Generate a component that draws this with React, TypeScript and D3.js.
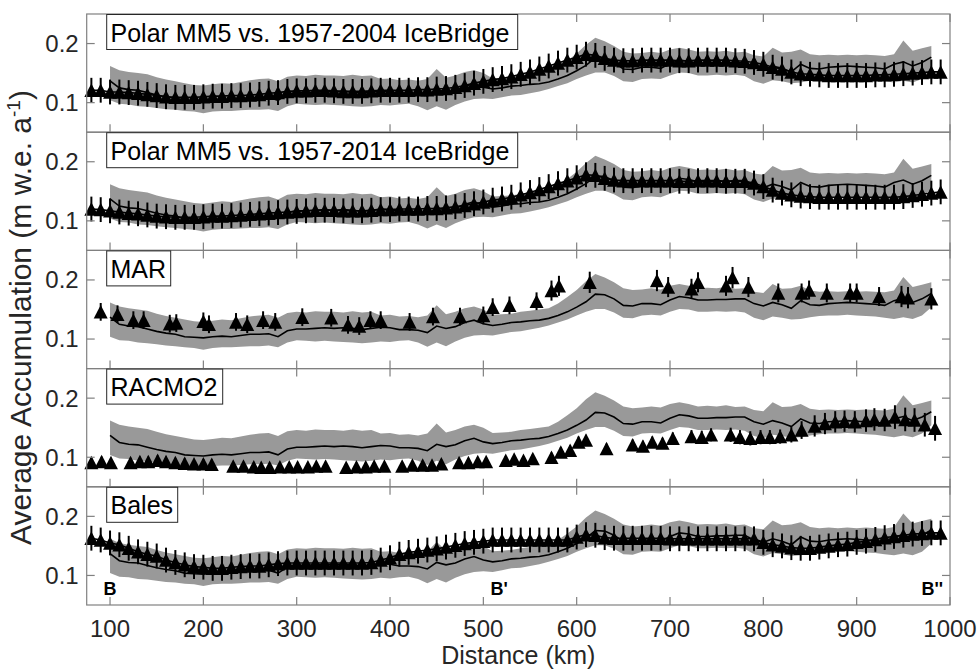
import React from "react";
import * as d3 from "d3";

// ---------- DATA ----------
const xTickValues = [100, 200, 300, 400, 500, 600, 700, 800, 900, 1000];
const yTickValues = [0.1, 0.2];
const yTickLabels = ["0.1", "0.2"];
const panelLabels = [
  "Polar MM5 vs. 1957-2004 IceBridge",
  "Polar MM5 vs. 1957-2014 IceBridge",
  "MAR",
  "RACMO2",
  "Bales",
];
const sectionLabels = ["B", "B'", "B''"];
const sectionKm = [100, 517, 981];

// IceBridge (radar) mean and spread, sampled every 10 km from 100 to 980 km
const iceKm = d3.range(100, 990, 10);
const iceMean = [
  0.137, 0.125, 0.122, 0.121, 0.117, 0.113, 0.110, 0.108, 0.104, 0.103,
  0.102, 0.104, 0.105, 0.104, 0.106, 0.108, 0.108, 0.109, 0.104, 0.114,
  0.117, 0.117, 0.118, 0.119, 0.118, 0.119, 0.118, 0.116, 0.118, 0.120,
  0.119, 0.116, 0.116, 0.115, 0.111, 0.122, 0.118, 0.121, 0.128, 0.132,
  0.126, 0.123, 0.125, 0.128, 0.129, 0.131, 0.132, 0.135, 0.140, 0.146,
  0.154, 0.163, 0.176, 0.175, 0.168, 0.157, 0.156, 0.160, 0.160, 0.158,
  0.166, 0.172, 0.170, 0.166, 0.166, 0.167, 0.167, 0.168, 0.168, 0.160,
  0.156, 0.162, 0.158, 0.152, 0.165, 0.158, 0.157, 0.160, 0.161, 0.162,
  0.161, 0.160, 0.159, 0.157, 0.165, 0.169, 0.162, 0.168, 0.177,
];
const iceUpper = [
  0.162, 0.155, 0.152, 0.150, 0.148, 0.143, 0.139, 0.136, 0.133, 0.130,
  0.129, 0.131, 0.133, 0.132, 0.135, 0.138, 0.140, 0.141, 0.136, 0.144,
  0.146, 0.145, 0.147, 0.146, 0.146, 0.145, 0.147, 0.145, 0.146, 0.140,
  0.141, 0.138, 0.139, 0.137, 0.140, 0.157, 0.142, 0.146, 0.152, 0.155,
  0.150, 0.141, 0.142, 0.143, 0.146, 0.148, 0.150, 0.152, 0.160, 0.171,
  0.183, 0.198, 0.210, 0.204, 0.196, 0.186, 0.183, 0.184, 0.186, 0.184,
  0.190, 0.193, 0.190, 0.186, 0.187, 0.186, 0.188, 0.185, 0.186, 0.180,
  0.178, 0.193, 0.185, 0.186, 0.190, 0.182, 0.180, 0.181, 0.180, 0.181,
  0.180, 0.181, 0.180, 0.179, 0.182, 0.205, 0.188, 0.192, 0.196,
];
const iceLower = [
  0.104, 0.098, 0.097, 0.094, 0.093, 0.091, 0.089, 0.088, 0.086, 0.085,
  0.082, 0.085, 0.086, 0.086, 0.087, 0.088, 0.088, 0.089, 0.086, 0.094,
  0.098, 0.097, 0.096, 0.097, 0.096, 0.095, 0.094, 0.093, 0.094, 0.096,
  0.095, 0.097, 0.098, 0.094, 0.087, 0.094, 0.088, 0.096, 0.102, 0.106,
  0.107, 0.106, 0.109, 0.112, 0.113, 0.116, 0.119, 0.123, 0.128, 0.133,
  0.140, 0.146, 0.151, 0.151, 0.145, 0.136, 0.135, 0.140, 0.141, 0.140,
  0.146, 0.151, 0.150, 0.146, 0.146, 0.147, 0.146, 0.147, 0.145, 0.136,
  0.132, 0.138, 0.136, 0.133, 0.134, 0.137, 0.139, 0.140, 0.140, 0.141,
  0.140, 0.139, 0.138, 0.136, 0.134, 0.137, 0.134, 0.140, 0.154,
];

// Dense series every 10 km from 80 to 990 km
const denseKm = d3.range(80, 1000, 10);
const mm5_2004 = [
  0.121, 0.121, 0.118, 0.118, 0.117, 0.116, 0.114, 0.112, 0.110, 0.109,
  0.109, 0.109, 0.110, 0.111, 0.111, 0.112, 0.112, 0.113, 0.114, 0.116,
  0.117, 0.119, 0.120, 0.120, 0.121, 0.121, 0.120, 0.119, 0.119, 0.119,
  0.120, 0.121, 0.121, 0.121, 0.121, 0.122, 0.122, 0.123, 0.124, 0.126,
  0.129, 0.133, 0.136, 0.139, 0.141, 0.144, 0.148, 0.152, 0.157, 0.162,
  0.167, 0.172, 0.177, 0.182, 0.180, 0.175, 0.172, 0.171, 0.171, 0.172,
  0.172, 0.172, 0.172, 0.171, 0.171, 0.172, 0.172, 0.172, 0.172, 0.171,
  0.170, 0.168, 0.165, 0.160, 0.157, 0.152, 0.149, 0.148, 0.147, 0.146,
  0.146, 0.146, 0.146, 0.146, 0.147, 0.147, 0.148, 0.149, 0.150, 0.151,
  0.152, 0.152,
];
const mm5_2014 = [
  0.120, 0.119, 0.117, 0.115, 0.113, 0.112, 0.110, 0.108, 0.107, 0.106,
  0.106, 0.106, 0.107, 0.108, 0.108, 0.109, 0.110, 0.111, 0.112, 0.113,
  0.114, 0.115, 0.116, 0.117, 0.118, 0.118, 0.118, 0.117, 0.117, 0.117,
  0.118, 0.119, 0.119, 0.120, 0.120, 0.120, 0.121, 0.121, 0.122, 0.124,
  0.126, 0.129, 0.132, 0.135, 0.137, 0.140, 0.144, 0.148, 0.153, 0.158,
  0.163, 0.168, 0.173, 0.178, 0.177, 0.172, 0.169, 0.168, 0.168, 0.168,
  0.168, 0.168, 0.168, 0.167, 0.167, 0.168, 0.168, 0.168, 0.167, 0.167,
  0.167, 0.164, 0.158, 0.152, 0.147, 0.144, 0.142, 0.141, 0.140, 0.140,
  0.140, 0.140, 0.140, 0.140, 0.140, 0.140, 0.140, 0.141, 0.143, 0.145,
  0.147, 0.149,
];
const bales = [
  0.163, 0.160, 0.155, 0.152, 0.146, 0.140, 0.136, 0.133, 0.126, 0.122,
  0.118, 0.115, 0.114, 0.112, 0.112, 0.114, 0.115, 0.116, 0.116, 0.118,
  0.120, 0.121, 0.121, 0.121, 0.121, 0.121, 0.121, 0.121, 0.121, 0.121,
  0.122, 0.126, 0.130, 0.136, 0.139, 0.141, 0.143, 0.145, 0.148, 0.151,
  0.154, 0.156, 0.158, 0.160, 0.160, 0.160, 0.160, 0.160, 0.160, 0.160,
  0.160, 0.160, 0.165, 0.169, 0.168, 0.164, 0.163, 0.163, 0.163, 0.163,
  0.163, 0.163, 0.162, 0.162, 0.162, 0.162, 0.162, 0.162, 0.162, 0.162,
  0.162, 0.162, 0.156, 0.152, 0.150, 0.147, 0.146, 0.146, 0.148, 0.150,
  0.152, 0.153, 0.156, 0.158, 0.161, 0.164, 0.166, 0.168, 0.170, 0.171,
  0.172, 0.172,
];
const mm5Err = 0.021;
const balesErr = 0.021;

// Sparse model points [km, value, error]
const marPoints: [number, number, number][] = [
  [90, 0.146, 0.015], [108, 0.142, 0.015], [125, 0.132, 0.015], [136, 0.132, 0.015],
  [164, 0.126, 0.015], [171, 0.127, 0.015], [200, 0.130, 0.015], [206, 0.125, 0.015],
  [235, 0.129, 0.015], [247, 0.125, 0.015], [264, 0.132, 0.015], [277, 0.129, 0.015],
  [306, 0.137, 0.015], [337, 0.136, 0.015], [355, 0.124, 0.015], [367, 0.122, 0.015],
  [379, 0.132, 0.015], [390, 0.132, 0.015], [421, 0.129, 0.015], [446, 0.138, 0.015],
  [475, 0.138, 0.015], [500, 0.140, 0.015], [510, 0.154, 0.015], [528, 0.157, 0.015],
  [557, 0.164, 0.015], [573, 0.182, 0.017], [581, 0.190, 0.017], [614, 0.196, 0.018],
  [686, 0.199, 0.018], [698, 0.188, 0.017], [723, 0.185, 0.017], [730, 0.196, 0.017],
  [760, 0.190, 0.017], [767, 0.204, 0.018], [784, 0.188, 0.017], [816, 0.178, 0.016],
  [841, 0.178, 0.016], [849, 0.183, 0.016], [868, 0.178, 0.016], [893, 0.178, 0.016],
  [900, 0.178, 0.016], [924, 0.172, 0.016], [948, 0.172, 0.018], [955, 0.170, 0.018],
  [980, 0.168, 0.018],
];
const racmoPoints: [number, number, number][] = [
  [80, 0.091, 0.008], [91, 0.093, 0.008], [101, 0.091, 0.008],
  [122, 0.091, 0.008], [132, 0.093, 0.008], [141, 0.093, 0.008], [151, 0.095, 0.008],
  [160, 0.093, 0.008], [170, 0.091, 0.008], [180, 0.090, 0.008], [190, 0.089, 0.008],
  [200, 0.089, 0.008], [209, 0.088, 0.008],
  [232, 0.085, 0.007], [243, 0.085, 0.007], [254, 0.084, 0.007], [262, 0.083, 0.007],
  [271, 0.083, 0.007], [282, 0.084, 0.007], [292, 0.084, 0.007], [301, 0.084, 0.007],
  [312, 0.084, 0.007], [321, 0.085, 0.007], [331, 0.085, 0.007],
  [353, 0.083, 0.007], [364, 0.084, 0.007], [374, 0.084, 0.007], [383, 0.085, 0.007],
  [394, 0.085, 0.007],
  [413, 0.085, 0.007], [424, 0.087, 0.007], [435, 0.087, 0.007], [445, 0.087, 0.007],
  [455, 0.089, 0.007],
  [474, 0.091, 0.007], [484, 0.091, 0.007], [494, 0.093, 0.007], [503, 0.093, 0.007],
  [524, 0.095, 0.007], [533, 0.097, 0.007], [543, 0.095, 0.007], [553, 0.098, 0.007],
  [573, 0.100, 0.008], [583, 0.109, 0.008], [593, 0.112, 0.008], [602, 0.126, 0.009],
  [610, 0.129, 0.009], [632, 0.115, 0.008],
  [660, 0.121, 0.009], [671, 0.119, 0.009], [681, 0.126, 0.009], [692, 0.124, 0.009],
  [703, 0.132, 0.010], [723, 0.135, 0.011], [734, 0.134, 0.011], [744, 0.138, 0.011],
  [765, 0.138, 0.012], [775, 0.134, 0.012], [786, 0.132, 0.012], [797, 0.134, 0.012],
  [807, 0.134, 0.012], [818, 0.135, 0.012], [830, 0.138, 0.013], [841, 0.146, 0.015],
  [855, 0.153, 0.018], [866, 0.157, 0.018], [877, 0.160, 0.018], [887, 0.161, 0.018],
  [898, 0.160, 0.018], [910, 0.162, 0.019], [919, 0.164, 0.019], [930, 0.163, 0.019],
  [941, 0.168, 0.020], [952, 0.164, 0.020], [962, 0.163, 0.020], [973, 0.155, 0.020],
  [984, 0.149, 0.021],
];

// ---------- LAYOUT ----------
const W = 980;
const H = 669;
const left = 86.7;
const right = 950;
const top0 = 14;
const panelH = 118.2;
const nPanels = 5;

const FONT = "'Liberation Sans', Arial, Helvetica, sans-serif";
const AXIS_COLOR = "#808080";
const TEXT_COLOR = "#262626";
const BAND_COLOR = "#999999";

const x = d3.scaleLinear().domain([75, 1000]).range([left, right]);

type Pt = [number, number, number];

function densePoints(vals: number[], err: number): Pt[] {
  return denseKm.map((k, i) => [k, vals[i], err] as Pt);
}

const panelPoints: Pt[][] = [
  densePoints(mm5_2004, mm5Err),
  densePoints(mm5_2014, mm5Err),
  marPoints,
  racmoPoints,
  densePoints(bales, balesErr),
];

const labelWidths = [411, 411, 64, 116, 71];

function Panel({ idx }: { idx: number }) {
  const ty = top0 + idx * panelH;
  const y = d3.scaleLinear().domain([0.05, 0.25]).range([ty + panelH, ty]);
  const area = d3
    .area<number>()
    .x((_, i) => x(iceKm[i]))
    .y0((_, i) => y(iceLower[i]))
    .y1((_, i) => y(iceUpper[i]));
  const line = d3
    .line<number>()
    .x((_, i) => x(iceKm[i]))
    .y((d) => y(d));
  const pts = panelPoints[idx];
  const tri = (cx: number, cy: number) => {
    const hw = 7;
    const h = 13.5;
    return `M${cx},${cy - h / 2}L${cx + hw},${cy + h / 2}L${cx - hw},${cy + h / 2}Z`;
  };
  const dense = idx === 0 || idx === 1 || idx === 4;
  const seriesLine = d3
    .line<Pt>()
    .x((d) => x(d[0]))
    .y((d) => y(d[1]));
  return (
    <g>
      <path d={area(iceKm) || ""} fill={BAND_COLOR} stroke="none" />
      <path d={line(iceMean) || ""} fill="none" stroke="#000" strokeWidth={1.6} />
      {dense && (
        <path d={seriesLine(pts) || ""} fill="none" stroke="#000" strokeWidth={1.6} />
      )}
      {pts.map((p, i) => (
        <line
          key={"e" + i}
          x1={x(p[0])}
          x2={x(p[0])}
          y1={y(p[1] - p[2])}
          y2={y(p[1] + p[2])}
          stroke="#000"
          strokeWidth={2}
        />
      ))}
      {pts.map((p, i) => (
        <path key={"t" + i} d={tri(x(p[0]), y(p[1]))} fill="#000" />
      ))}
      {/* frame */}
      <rect
        x={left}
        y={ty}
        width={right - left}
        height={panelH}
        fill="none"
        stroke={AXIS_COLOR}
        strokeWidth={1.2}
      />
      {xTickValues.map((t) => (
        <g key={"xt" + t}>
          <line x1={x(t)} x2={x(t)} y1={ty} y2={ty + 8} stroke={AXIS_COLOR} strokeWidth={1.2} />
          <line
            x1={x(t)}
            x2={x(t)}
            y1={ty + panelH}
            y2={ty + panelH - 8}
            stroke={AXIS_COLOR}
            strokeWidth={1.2}
          />
        </g>
      ))}
      {yTickValues.map((t, i) => (
        <g key={"yt" + t}>
          <line x1={left} x2={left + 8} y1={y(t)} y2={y(t)} stroke={AXIS_COLOR} strokeWidth={1.2} />
          <line x1={right} x2={right - 8} y1={y(t)} y2={y(t)} stroke={AXIS_COLOR} strokeWidth={1.2} />
          <text
            x={left - 8}
            y={y(t)}
            dy="0.35em"
            textAnchor="end"
            fontSize={24}
            fontFamily={FONT}
            fill={TEXT_COLOR}
          >
            {yTickLabels[i]}
          </text>
        </g>
      ))}
      {/* label box */}
      <rect
        x={106.7}
        y={ty + 0.5}
        width={labelWidths[idx]}
        height={35}
        fill="#fff"
        stroke="#262626"
        strokeWidth={1}
      />
      <text x={110.5} y={ty + 27.5} fontSize={25} fontFamily={FONT} fill="#000">
        {panelLabels[idx]}
      </text>
    </g>
  );
}

export default function App() {
  const bottom = top0 + nPanels * panelH;
  return (
    <svg
      width={W}
      height={H}
      viewBox={`0 0 ${W} ${H}`}
      style={{ position: "absolute", left: 0, top: 0, background: "#fff" }}
    >
      <rect x={0} y={0} width={W} height={H} fill="#fff" />
      {d3.range(nPanels).map((i) => (
        <Panel key={i} idx={i} />
      ))}
      {xTickValues.map((t) => (
        <text
          key={"xl" + t}
          x={x(t)}
          y={637}
          textAnchor="middle"
          fontSize={24}
          fontFamily={FONT}
          fill={TEXT_COLOR}
        >
          {t}
        </text>
      ))}
      <text
        x={(left + right) / 2}
        y={664}
        textAnchor="middle"
        fontSize={25}
        fontFamily={FONT}
        fill={TEXT_COLOR}
      >
        Distance (km)
      </text>
      <text
        transform={`translate(31, ${(top0 + bottom) / 2 + 8}) rotate(-90)`}
        textAnchor="middle"
        fontSize={30}
        fontFamily={FONT}
        fill={TEXT_COLOR}
      >
        Average Accumulation (m w.e. a
        <tspan fontSize={19} dy={-11}>
          -1
        </tspan>
        <tspan dy={11}>)</tspan>
      </text>
      {sectionLabels.map((s, i) => (
        <text
          key={s}
          x={x(sectionKm[i])}
          y={595}
          textAnchor="middle"
          fontSize={18}
          fontWeight="bold"
          fontFamily={FONT}
          fill="#000"
        >
          {s}
        </text>
      ))}
    </svg>
  );
}
